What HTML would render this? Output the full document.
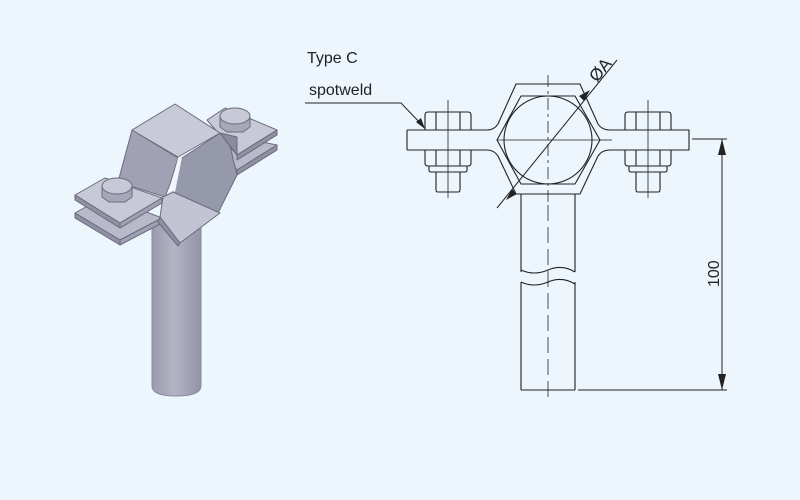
<!DOCTYPE html>
<html><head><meta charset="utf-8"><style>
html,body{margin:0;padding:0;background:#eef6fd;}
svg{display:block;font-family:"Liberation Sans",sans-serif;}
</style></head><body>
<svg width="800" height="500" viewBox="0 0 800 500" xmlns="http://www.w3.org/2000/svg">
<defs>
<linearGradient id="pg" x1="0" x2="1" y1="0" y2="0">
<stop offset="0" stop-color="#9a9bad"/><stop offset="0.45" stop-color="#b3b4c4"/><stop offset="1" stop-color="#9294a7"/>
</linearGradient>
<g id="nutT" fill="none" stroke="#222" stroke-width="1.1">
<path d="M-23,18 V3 Q-23,0 -20,0 H20 Q23,0 23,3 V18"/><path d="M-12,0 V18 M12,0 V18"/>
</g>
<g id="nutB" fill="none" stroke="#222" stroke-width="1.1">
<path d="M-23,0 V13 Q-23,16 -20,16 H20 Q23,16 23,13 V0"/><path d="M-12,0 V16 M12,0 V16"/>
<path d="M-19,16 V20 Q-19,22 -17,22 H17 Q19,22 19,20 V16"/>
<path d="M-12,22 V40 Q-12,42 -10,42 H10 Q12,42 12,40 V22"/>
</g>
</defs>
<rect width="800" height="500" fill="#eef6fd"/>

<!-- 3D view -->
<g stroke="#6a6b7c" stroke-width="1" stroke-linejoin="round">
<path d="M152,220 H201 V386 Q201,396 176,396 Q152,396 152,386 Z" fill="url(#pg)" stroke="#8a8b9c"/>
<!-- right flanges -->
<polygon points="220,148 237,137 277,145 237,170" fill="#b8b9c9"/>
<polygon points="237,170 277,145 277,150 237,175" fill="#8f90a3"/>
<polygon points="207,120 225,108 277,130 237,155" fill="#c8c9d7"/>
<polygon points="237,155 277,130 277,135 237,160" fill="#8f90a3"/>
<!-- upper hex -->
<polygon points="132,130 178,158 170,184 165,197 118,182" fill="#a0a1b4"/>
<polygon points="182,158 220,133 230,146 237,175 218,213 173,192" fill="#9698ab"/>
<polygon points="220,133 230,146 237,155 237,137" fill="#8a8b9f"/>
<polygon points="132,130 175,104 220,133 178,157" fill="#c9cad8"/>
<polygon points="178,158 182,158 175,192 170,190" fill="#f2f5fb" stroke="none"/>
<!-- left flanges -->
<polygon points="75,213 105,196 162,218 120,240" fill="#b8b9c9"/>
<polygon points="75,213 120,240 120,245 75,218" fill="#8f90a3"/>
<polygon points="120,240 162,218 162,223 120,245" fill="#9fa0b2"/>
<polygon points="75,195 105,178 162,198 120,223" fill="#c8c9d7"/>
<polygon points="75,195 120,223 120,228 75,200" fill="#8f90a3"/>
<polygon points="120,223 162,198 162,203 120,228" fill="#9fa0b2"/>
<!-- lower hex bottom face -->
<polygon points="163,197 173,192 220,213 180,243 160,217" fill="#c3c4d3"/>
<polygon points="160,217 180,243 178,246 158,222" fill="#8f90a3"/>
<!-- bolt heads -->
<path d="M102,187 v10 l7,5 h16 l7,-5 v-10 z" fill="#a6a7b9"/>
<ellipse cx="117" cy="186" rx="15" ry="8" fill="#c8c9d7"/>
<path d="M220,117 v10 l7,5 h16 l7,-5 v-10 z" fill="#a6a7b9"/>
<ellipse cx="235" cy="116" rx="15" ry="8" fill="#c8c9d7"/>
</g>

<!-- technical drawing -->
<g fill="none" stroke="#222" stroke-width="1.1">
<path d="M407,130 H487 M407,150 H487 M407,130 V150"/>
<path d="M610,130 H689 V150 H610"/>
<path d="M487,130 Q494,130 498,124 L516,84 H580 L598,124 Q602,130 610,130"/>
<path d="M487,150 Q494,150 498,156 L516,194 H580 L598,156 Q602,150 610,150"/>
<path d="M497,140 L521,96 H575 L600,140 L575,184 H521 Z"/>
<circle cx="548" cy="140" r="44"/>
<path d="M521,194 V272 M575,194 V272 M521,282 V390 M575,282 V390 M521,390 H575"/>
<path d="M521,270 Q534,276 548,270 T575,272" />
<path d="M521,282 Q534,288 548,282 T575,284" />
</g>
<use href="#nutT" x="448" y="112"/><use href="#nutB" x="448" y="150"/>
<use href="#nutT" x="648" y="112"/><use href="#nutB" x="648" y="150"/>
<g stroke="#222" stroke-width="0.8" fill="none">
<path d="M448,100 V198 M648,100 V198"/>
<path d="M548,75 V205" stroke-dasharray="12,4,3,4"/>
<path d="M548,205 V400" stroke-dasharray="16,6"/>
<path d="M497,140 H600"/>
<path d="M600,140 H612"/>
</g>
<g stroke="#222" stroke-width="1" fill="none"><path d="M497,208 L617,60"/></g>
<polygon points="512,189 506,200 517,194" fill="#222"/>
<polygon points="584,101 590,90 579,96" fill="#222"/>
<text x="0" y="0" font-size="17" fill="#222" transform="translate(597,83) rotate(-51)">ØA</text>
<g stroke="#222" stroke-width="1" fill="none">
<path d="M692,139 H727 M578,390 H727 M722,139 V390"/>
</g>
<polygon points="722,139 718,155 726,155" fill="#222"/>
<polygon points="722,390 718,374 726,374" fill="#222"/>
<text x="0" y="0" font-size="16" fill="#222" transform="translate(719,287) rotate(-90)">100</text>
<text x="307" y="63" font-size="16" fill="#222">Type C</text>
<text x="309" y="95" font-size="16" fill="#222">spotweld</text>
<path d="M305,103 H401 L424,127" stroke="#222" stroke-width="1" fill="none"/>
<polygon points="425,129 416,122 421,118" fill="#222"/>
</svg>
</body></html>
